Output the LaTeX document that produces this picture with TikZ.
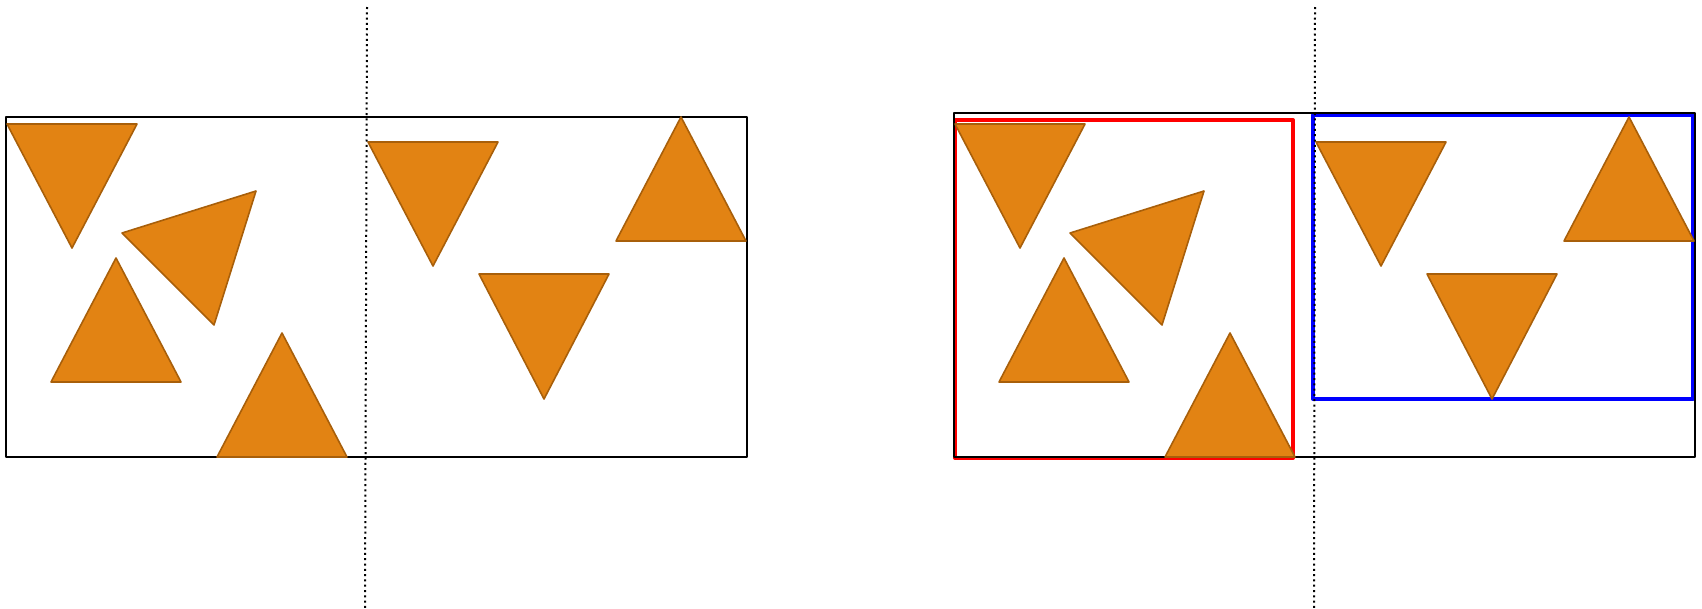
\documentclass[tikz,border=0pt]{standalone}
\usepackage{xcolor}
\usepackage{tikz}
\usetikzlibrary{calc}

\definecolor{triorange}{RGB}{226,131,19}
\definecolor{tribrown}{RGB}{168,95,10}

\begin{document}
\begin{tikzpicture}[x=1pt,y=-1pt,
   tri/.style={fill=triorange,draw=tribrown,line width=1.6pt,line join=round},
   bx/.style={draw=black,line width=2.4pt,line join=round},
   part/.style={line width=4pt,line join=round},
   cut/.style={draw=black,line width=2pt,dash pattern=on 2pt off 3.3pt}]
  \useasboundingbox (0,0) rectangle (1702,608);
  % the two pieces on the right
  \draw[part,red]  (955,120) rectangle (1293,458);
  \draw[part,blue] (1313,115) rectangle (1693,399);
  % outer boxes
  \draw[bx] (6,117) rectangle (747,457);
  \draw[bx] (954,113) rectangle (1695,457);
  % same triangles in both boxes
  \foreach \dx in {0,948}{
    \begin{scope}[xshift=\dx]
      \draw[tri] (7,124) -- (137,124) -- (72,248) -- cycle;
      \draw[tri] (122,233) -- (256,191) -- (214,325) -- cycle;
      \draw[tri] (51,382) -- (181,382) -- (116,258) -- cycle;
      \draw[tri] (217,457) -- (347,457) -- (282,333) -- cycle;
      \draw[tri] (368,142) -- (498,142) -- (433,266) -- cycle;
      \draw[tri] (479,274) -- (609,274) -- (544,399) -- cycle;
      \draw[tri] (616,241) -- (746,241) -- (681,117) -- cycle;
    \end{scope}
  }
  % cut lines
  \draw[cut] (367,7) -- (365,608);
  \draw[cut] (1315,7) -- (1314,608);
\end{tikzpicture}
\end{document}
